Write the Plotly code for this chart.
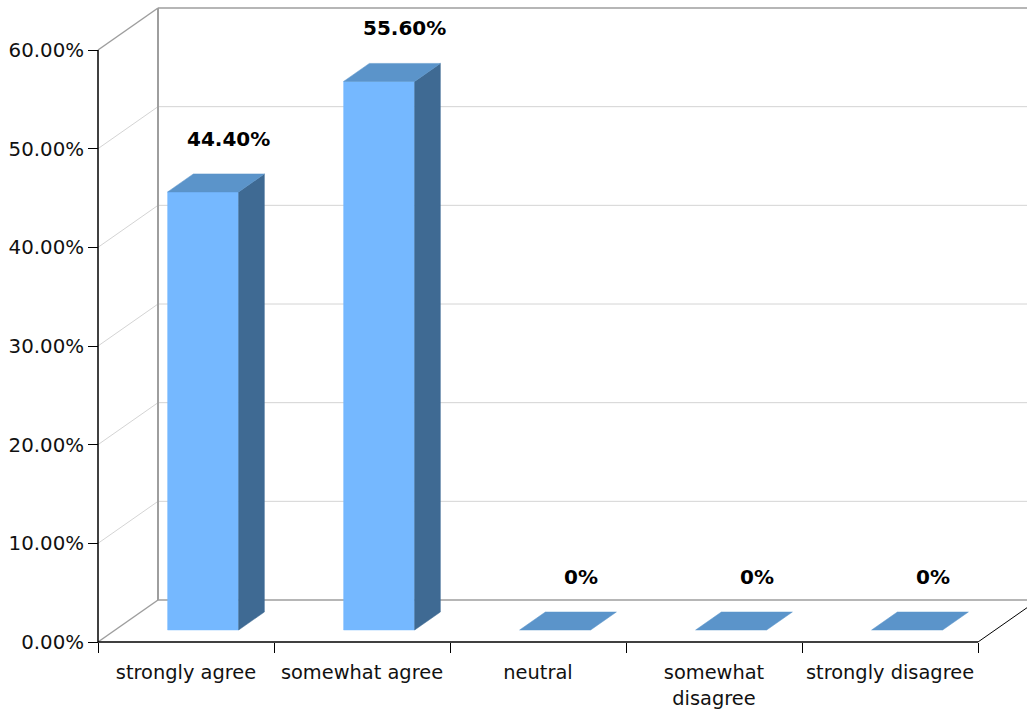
import plotly.graph_objects as go

# Survey responses (share of respondents, %)
categories = ["strongly agree", "somewhat agree", "neutral", "somewhat disagree", "strongly disagree"]
tick_text = ["strongly agree", "somewhat agree", "neutral", "somewhat<br>disagree", "strongly disagree"]
values = [44.4, 55.6, 0.0, 0.0, 0.0]
value_labels = ["44.40%", "55.60%", "0%", "0%", "0%"]
y_ticks = [0, 10, 20, 30, 40, 50, 60]
y_tick_text = ["0.00%", "10.00%", "20.00%", "30.00%", "40.00%", "50.00%", "60.00%"]

# ---- page geometry (pixels) ----
W, H = 1027, 710
X0_PX = 98          # left end of the front x axis
CAT_PX = 176        # width of one category slot
Y0_PX = 642         # front baseline (0 %)
YTOP_PX = 50        # front position of the axis maximum
YMAX = 60
PX_PER_PCT = (Y0_PX - YTOP_PX) / YMAX

# axis ranges so that the plot area spans the whole page
x_range = [-0.5 - X0_PX / CAT_PX, -0.5 + (W - X0_PX) / CAT_PX]
y_range = [-(H - Y0_PX) / PX_PER_PCT, Y0_PX / PX_PER_PCT]

# depth of the back wall, in data units
DX = 60 / CAT_PX
DY = 42 / PX_PER_PCT

# bar box: width in category units, depth as fractions of the wall depth
BAR_W = 71 / CAT_PX
F_FRONT = 12 / 42
F_BACK = 30 / 42

FRONT_C = "#75b8ff"
TOP_C = "#5b94ca"
SIDE_C = "#3f6a93"
GRID_C = "#d4d4d4"
WALL_C = "#9e9e9e"

n = len(categories)
x_left = -0.5
x_right = n - 0.5

shapes = []


def seg(x0, y0, x1, y1, color, width=1):
    shapes.append(dict(type="line", xref="x", yref="y", x0=x0, y0=y0, x1=x1, y1=y1,
                       line=dict(color=color, width=width), layer="below"))


# back wall grid lines and their diagonals to the front axis
for v in y_ticks:
    is_edge = v in (0, YMAX)
    col = WALL_C if is_edge else GRID_C
    w = 1.5 if is_edge else 1
    seg(x_left + DX, v + DY, x_right + 2 * DX, v + DY, col, w)
    seg(x_left, v, x_left + DX, v + DY, col, w)

# back wall left edge
seg(x_left + DX, DY, x_left + DX, YMAX + DY, WALL_C, 2)
# floor right edge
seg(x_right, 0, x_right + DX, DY, "#000000", 1)
# front axes
seg(x_left, 0, x_right, 0, "#000000", 1.5)
seg(x_left, 0, x_left, YMAX, "#000000", 1.5)

fig = go.Figure()


def poly(xs, ys, color):
    fig.add_trace(go.Scatter(x=xs + [xs[0]], y=ys + [ys[0]], mode="lines", fill="toself",
                             fillcolor=color, line=dict(color=color, width=0.5),
                             hoverinfo="skip", showlegend=False))


ddx = (F_BACK - F_FRONT) * DX
ddy = (F_BACK - F_FRONT) * DY
annotations = []
for i, (v, lab) in enumerate(zip(values, value_labels)):
    xl = i - BAR_W / 2 + F_FRONT * DX
    xr = xl + BAR_W
    yb = F_FRONT * DY
    yt = v + F_FRONT * DY
    if v > 0:
        poly([xl, xr, xr, xl], [yb, yb, yt, yt], FRONT_C)
        poly([xr, xr + ddx, xr + ddx, xr], [yb, yb + ddy, yt + ddy, yt], SIDE_C)
    poly([xl, xr, xr + ddx, xl + ddx], [yt, yt, yt + ddy, yt + ddy], TOP_C)
    annotations.append(dict(x=(xl + xr) / 2 + ddx, y=yt + ddy, xref="x", yref="y",
                            text="<b>%s</b>" % lab, showarrow=False, yshift=35,
                            font=dict(size=20, color="#000000", family="DejaVu Sans")))

# second x axis carries the boundary tick marks
fig.add_trace(go.Scatter(x=[None], y=[None], xaxis="x2", showlegend=False, hoverinfo="skip"))

x_font = dict(size=19.4, color="#111111", family="DejaVu Sans")
y_font = dict(size=19.8, color="#111111", family="DejaVu Sans")
fig.update_layout(
    width=W, height=H,
    margin=dict(l=0, r=0, t=0, b=0),
    plot_bgcolor="white", paper_bgcolor="white",
    showlegend=False,
    shapes=shapes,
    annotations=annotations,
    xaxis=dict(range=x_range, anchor="free", position=(H - Y0_PX) / H,
               tickvals=list(range(n)), ticktext=tick_text, ticks="",
               ticklabelstandoff=17,
               showgrid=False, zeroline=False, showline=False,
               tickfont=x_font, fixedrange=True),
    xaxis2=dict(range=x_range, overlaying="x", anchor="free", position=(H - Y0_PX) / H,
                side="bottom", tickvals=[k - 0.5 for k in range(n + 1)], ticks="outside",
                ticklen=10, tickwidth=1, tickcolor="#000000", showticklabels=False,
                showgrid=False, zeroline=False, showline=False, fixedrange=True),
    yaxis=dict(range=y_range, anchor="free", position=X0_PX / W,
               tickvals=y_ticks, ticktext=y_tick_text, ticks="outside", ticklen=10,
               tickwidth=1, tickcolor="#000000",
               showgrid=False, zeroline=False, showline=False,
               tickfont=y_font, fixedrange=True),
)

fig.write_html("out.html")
